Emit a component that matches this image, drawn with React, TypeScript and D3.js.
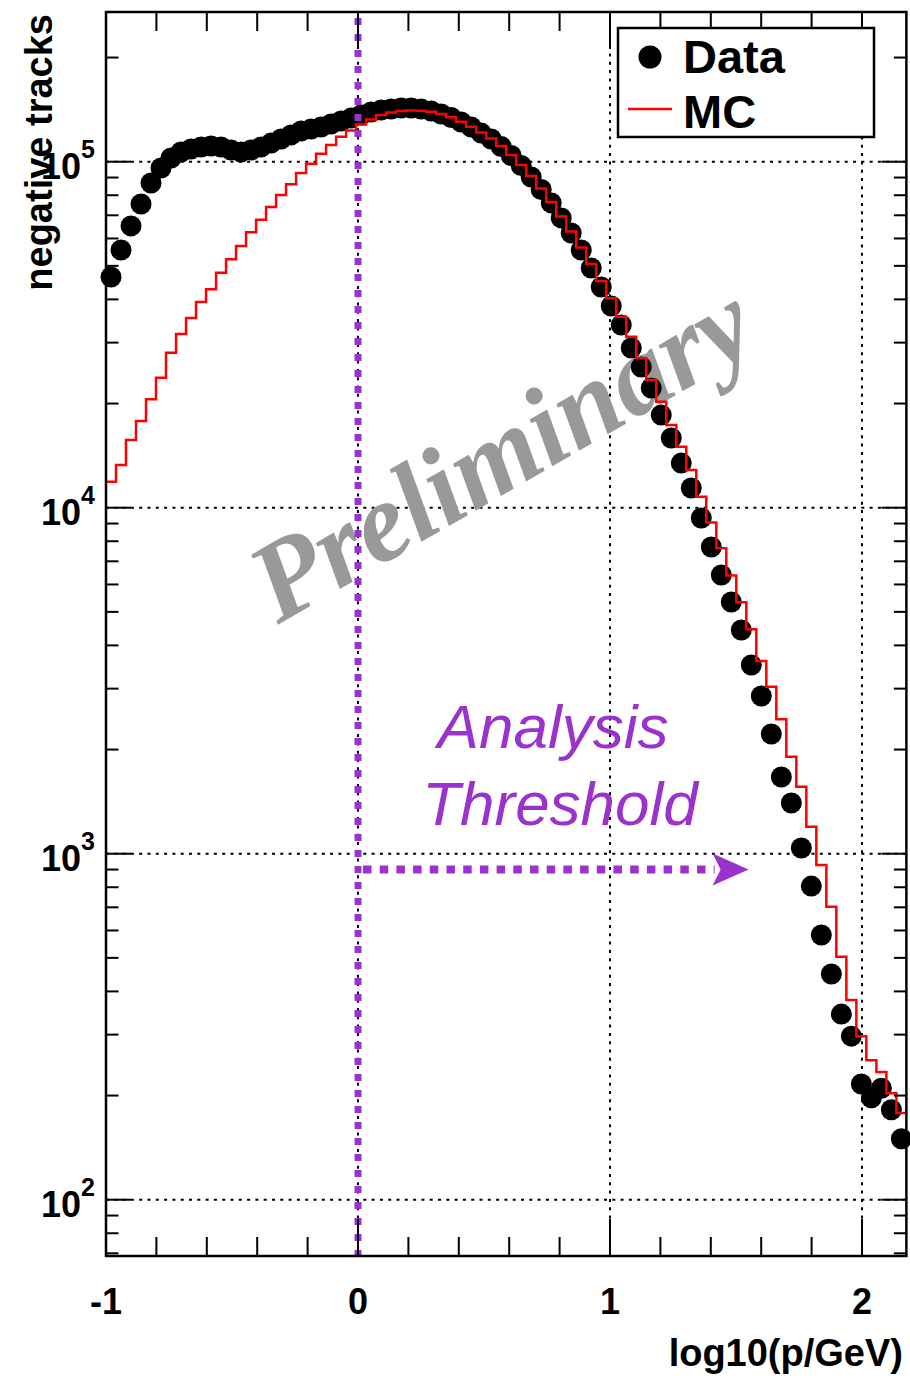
import React from 'react';
import * as d3 from 'd3';

// Histogram binning: 80 log-momentum bins from 0.1 GeV to 150 GeV
const X_MIN = -1;
const X_MAX = Math.log10(150);
const N_BINS = 80;

// Data (black points), counts per bin
const dataCounts = [
  46430, 55570, 65210, 75460, 86780, 95900, 102500, 106700, 108800, 110300,
  111000, 110300, 108100, 106700, 108100, 110300, 113200, 116300, 119500, 122700,
  124300, 126000, 128500, 131100, 133700, 136500, 139200, 141100, 142000, 143000,
  143000, 142000, 140100, 137400, 134200, 130200, 126000, 121000, 116300, 110600,
  104200, 97500, 90300, 83100, 76000, 68800, 62200, 55570, 49290, 43440,
  38270, 33730, 28940, 25510, 22180, 18530, 15900, 13460, 11400, 9338,
  7698, 6390, 5340, 4432, 3511, 2857, 2218, 1666, 1401, 1039,
  806, 582, 449, 344, 297, 216, 197, 210, 182, 150,
];

// MC (red histogram), counts per bin
const mcCounts = [
  11890, 13290, 15690, 17810, 20580, 23750, 28050, 31770, 35350, 39300,
  42780, 47780, 52230, 57060, 62550, 67980, 73990, 80130, 86100, 92750,
  98600, 105400, 111700, 118100, 123100, 128100, 132400, 136500, 138700, 140100,
  140600, 140400, 139500, 137400, 134400, 130500, 126200, 121400, 116700, 111000,
  104600, 97800, 90900, 83640, 76480, 69440, 62830, 56490, 50610, 45200,
  40290, 35650, 31200, 27030, 23390, 20250, 17340, 15010, 12850, 10760,
  9060, 7632, 6368, 5332, 4452, 3604, 3039, 2446, 1907, 1562,
  1197, 928, 703, 504, 378, 297, 253, 234, 203, 178,
];

const xMajorTicks = [-1, 0, 1, 2];
const xTickLabels = ['-1', '0', '1', '2'];
const xGridValues = [0, 1, 2];
const yDecadeExponents = [2, 3, 4, 5];
const Y_MIN = 68.76;
const Y_MAX = 270800;
const thresholdX = 0;
const arrowY = 900;
const arrowEndX = 1.55;
const legendLabels = ['Data', 'MC'];
const xTitle = 'log10(p/GeV)';
const yTitle = 'negative tracks';
const watermark = 'Preliminary';
const noteLines = ['Analysis', 'Threshold'];

const PURPLE = '#9933cc';
const SANS = '"Liberation Sans", Arial, Helvetica, sans-serif';
const SERIF = '"Liberation Serif", "Times New Roman", serif';

export default function App() {
  const W = 910;
  const H = 1379;
  const left = 106;
  const top = 12;
  const bottom = 1256;
  const right = left + 252 * (X_MAX - X_MIN);

  const x = d3.scaleLinear().domain([X_MIN, X_MAX]).range([left, right]);
  const y = d3.scaleLog().domain([Y_MIN, Y_MAX]).range([bottom, top]);

  const bw = (X_MAX - X_MIN) / N_BINS;
  const centers = dataCounts.map((_, i) => X_MIN + (i + 0.5) * bw);

  const mcPts: [number, number][] = [];
  mcCounts.forEach((v, i) => {
    mcPts.push([X_MIN + i * bw, v]);
    mcPts.push([X_MIN + (i + 1) * bw, v]);
  });
  const line = d3
    .line<[number, number]>()
    .x((d) => x(d[0]))
    .y((d) => y(d[1]));

  const xTicks = d3
    .range(0, 17)
    .map((k) => Math.round((-1 + 0.2 * k) * 1000) / 1000)
    .filter((v) => v <= X_MAX + 1e-9);
  const isInt = (v: number) => Math.abs(v - Math.round(v)) < 1e-6;
  const yTicks = y.ticks().filter((v) => v >= Y_MIN && v <= Y_MAX);
  const isDecade = (v: number) => isInt(Math.log10(v));

  const gridStyle = { stroke: '#000', strokeWidth: 2, strokeDasharray: '3 5.3' };

  return (
    <svg
      width={W}
      height={H}
      viewBox={`0 0 ${W} ${H}`}
      style={{ position: 'absolute', left: 0, top: 0, background: '#fff' }}
    >
      <rect x={0} y={0} width={W} height={H} fill="#fff" />

      {/* grid */}
      {xGridValues.map((v) => (
        <line key={'gx' + v} x1={x(v)} x2={x(v)} y1={top} y2={bottom} {...gridStyle} />
      ))}
      {yDecadeExponents.map((e) => (
        <line
          key={'gy' + e}
          x1={left}
          x2={right}
          y1={y(Math.pow(10, e))}
          y2={y(Math.pow(10, e))}
          {...gridStyle}
        />
      ))}

      {/* watermark */}
      <text
        transform={`translate(520,485) rotate(-30)`}
        textAnchor="middle"
        fontFamily={SERIF}
        fontStyle="italic"
        fontWeight="bold"
        fontSize={113}
        fill="#999999"
      >
        {watermark}
      </text>

      {/* data points */}
      {dataCounts.map((v, i) => (
        <circle key={'d' + i} cx={x(centers[i])} cy={y(v)} r={10.5} fill="#000" />
      ))}

      {/* MC histogram */}
      <path d={line(mcPts) || ''} fill="none" stroke="#ff0000" strokeWidth={2.5} />

      {/* threshold line */}
      <line
        x1={x(thresholdX)}
        x2={x(thresholdX)}
        y1={top + 6}
        y2={bottom}
        stroke={PURPLE}
        strokeWidth={7}
        strokeDasharray="7 9"
      />
      {/* arrow */}
      <line
        x1={x(thresholdX) + 5}
        x2={x(arrowEndX) - 34}
        y1={y(arrowY)}
        y2={y(arrowY)}
        stroke={PURPLE}
        strokeWidth={8}
        strokeDasharray="8.5 8.2"
      />
      <path
        d={`M${x(arrowEndX) - 36},${y(arrowY) - 16} L${x(arrowEndX)},${y(arrowY)} L${x(arrowEndX) - 36},${y(arrowY) + 16} L${x(arrowEndX) - 28},${y(arrowY)} Z`}
        fill={PURPLE}
      />
      <text
        x={553}
        y={748}
        textAnchor="middle"
        fontFamily={SANS}
        fontStyle="italic"
        fontSize={62}
        fill={PURPLE}
      >
        {noteLines[0]}
      </text>
      <text
        x={560}
        y={825}
        textAnchor="middle"
        fontFamily={SANS}
        fontStyle="italic"
        fontSize={62}
        fill={PURPLE}
      >
        {noteLines[1]}
      </text>

      {/* frame */}
      <rect x={left} y={top} width={right - left} height={bottom - top} fill="none" stroke="#000" strokeWidth={2.5} />

      {/* x ticks */}
      {xTicks.map((v) => {
        const len = isInt(v) ? 37 : 19;
        return (
          <g key={'xt' + v}>
            <line x1={x(v)} x2={x(v)} y1={bottom} y2={bottom - len} stroke="#000" strokeWidth={2} />
            <line x1={x(v)} x2={x(v)} y1={top} y2={top + len} stroke="#000" strokeWidth={2} />
          </g>
        );
      })}
      {/* y ticks */}
      {yTicks.map((v) => {
        const len = isDecade(v) ? 25 : 12.5;
        return (
          <g key={'yt' + v}>
            <line x1={left} x2={left + len} y1={y(v)} y2={y(v)} stroke="#000" strokeWidth={2} />
            <line x1={right} x2={right - len} y1={y(v)} y2={y(v)} stroke="#000" strokeWidth={2} />
          </g>
        );
      })}

      {/* x tick labels */}
      {xMajorTicks.map((v, i) => (
        <text
          key={'xl' + v}
          x={x(v)}
          y={1314}
          textAnchor="middle"
          fontFamily={SANS}
          fontWeight="bold"
          fontSize={36}
          fill="#000"
        >
          {xTickLabels[i]}
        </text>
      ))}
      {/* y tick labels */}
      {yDecadeExponents.map((e) => (
        <text
          key={'yl' + e}
          x={95}
          y={y(Math.pow(10, e)) + 17}
          textAnchor="end"
          fontFamily={SANS}
          fontWeight="bold"
          fontSize={36}
          fill="#000"
        >
          10
          <tspan fontSize={25} dy={-21}>
            {String(e)}
          </tspan>
        </text>
      ))}

      {/* axis titles */}
      <text
        x={903}
        y={1366}
        textAnchor="end"
        fontFamily={SANS}
        fontWeight="bold"
        fontSize={38}
        fill="#000"
      >
        {xTitle}
      </text>
      <text
        transform={`translate(52,${top + 2}) rotate(-90)`}
        textAnchor="end"
        fontFamily={SANS}
        fontWeight="bold"
        fontSize={38}
        fill="#000"
      >
        {yTitle}
      </text>

      {/* legend */}
      <rect x={618} y={28} width={256} height={109} fill="#fff" stroke="#000" strokeWidth={2.5} />
      <circle cx={650} cy={57} r={11.5} fill="#000" />
      <text x={683} y={73} fontFamily={SANS} fontWeight="bold" fontSize={47} fill="#000">
        {legendLabels[0]}
      </text>
      <line x1={628} x2={672} y1={109} y2={109} stroke="#ff0000" strokeWidth={2.5} />
      <text x={683} y={128} fontFamily={SANS} fontWeight="bold" fontSize={47} fill="#000">
        {legendLabels[1]}
      </text>
    </svg>
  );
}
